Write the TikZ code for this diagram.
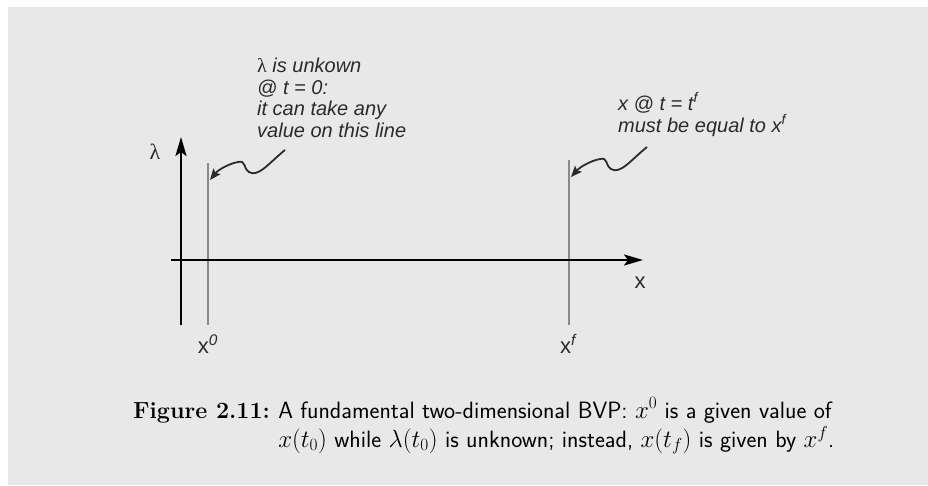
\documentclass[tikz,border=0pt]{standalone}
\usepackage{fontspec}
\newfontfamily\annfont{Liberation Sans}
\newfontfamily\lamfont{Liberation Serif}
\usetikzlibrary{arrows.meta}
\definecolor{panel}{HTML}{E8E8E8}
\definecolor{guide}{HTML}{8A8A8A}
\definecolor{ink}{HTML}{2B2B2B}
\newcommand{\capsf}{\sffamily\addfontfeature{FakeStretch=1.15}}

\begin{document}
\begin{tikzpicture}[x=1pt, y=-1pt, >={Stealth[length=19pt,width=11pt,inset=4pt]},
  axis/.style={->, line width=2.6pt},
  guideline/.style={draw=guide, line width=1.6pt},
  squiggle/.style={-{Stealth[length=11pt,width=9pt,inset=2pt]}, draw=ink, line width=1.8pt},
  note/.style={font=\annfont\itshape\fontsize{20}{21.5}\selectfont, align=left, inner sep=0pt, text=ink},
  axlabel/.style={font=\annfont\fontsize{22}{24}\selectfont, inner sep=0pt, text=ink}]
  \fill[panel] (8,7) rectangle (928,485);
  \useasboundingbox (0,0) rectangle (928,485);

  \coordinate (lamfoot) at (181,325);
  \coordinate (lamtip)  at (181,137);
  \coordinate (xstart)  at (171,260);
  \coordinate (xtip)    at (643,260);
  \coordinate (x0top)   at (208,163);
  \coordinate (x0foot)  at (208,325);
  \coordinate (xftop)   at (569,160);
  \coordinate (xffoot)  at (569,325);
  \coordinate (x0hit)   at (210,180);
  \coordinate (xfhit)   at (571,177);

  \draw[guideline] (x0top) -- (x0foot);
  \draw[guideline] (xftop) -- (xffoot);
  \draw[axis] (xstart) -- (xtip);
  \draw[axis] (lamfoot) -- (lamtip);

  \node[axlabel, font=\lamfont\fontsize{22}{24}\selectfont] (lamlbl) at (155,152) {λ};
  \node[axlabel, anchor=base] (xlbl)  at (640,288) {x};
  \node[axlabel, anchor=base] (x0lbl) at (208,353) {x\textsuperscript{\itshape 0}};
  \node[axlabel, anchor=base] (xflbl) at (568,353) {x\textsuperscript{\itshape f}};

  \node[note, anchor=base west] (lamnote) at (257,137)
    {{\lamfont\upshape λ} is unkown\\@ t = 0:\\it can take any\\value on this line};
  \node[note, anchor=base west] (xfnote) at (618,132)
    {x @ t = t\textsuperscript{f}\\must be equal to x\textsuperscript{f}};

  \draw[squiggle] (285,150) .. controls (270,162) and (258,178) .. (249,172)
    .. controls (243,168) and (246,160) .. (238,162)
    .. controls (228,164) and (218,170) .. (x0hit);
  \draw[squiggle] (647,147) .. controls (632,159) and (620,175) .. (611,169)
    .. controls (605,165) and (608,157) .. (600,159)
    .. controls (590,161) and (580,167) .. (xfhit);

  \node[anchor=base west, inner sep=0pt, font=\fontsize{23.6}{27}\selectfont] (caption) at (133,418)
    {\begin{tabular}[t]{@{}l@{\hspace{0.35em}}l@{}}
      {\fontsize{23.3}{27}\selectfont\bfseries Figure 2.11:} & \capsf A fundamental two-dimensional BVP: $x^0$ is a given value of\\
       & \capsf $x(t_0)$ while $\lambda(t_0)$ is unknown; instead, $x(t_f)$ is given by $x^f$.
    \end{tabular}};
\end{tikzpicture}
\end{document}
